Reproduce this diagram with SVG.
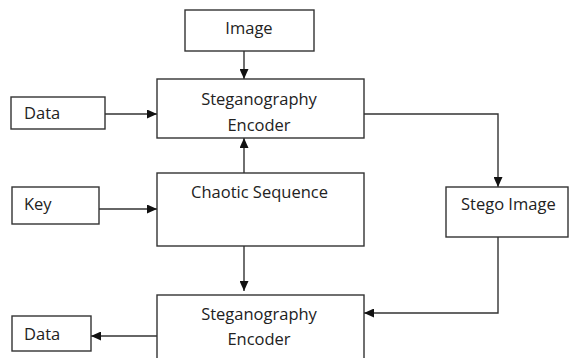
<svg xmlns="http://www.w3.org/2000/svg" width="570" height="358" viewBox="0 0 570 358">
<defs>
<style>
.box{fill:#fff;stroke:#333;stroke-width:1.4}
.ln{fill:none;stroke:#333;stroke-width:1.4}
text{font-family:"Open Sans","DejaVu Sans",sans-serif;font-size:16.5px;fill:#222}
.c{text-anchor:middle}
</style>
<marker id="ah" viewBox="0 0 10 9" refX="10" refY="4.5" markerWidth="10" markerHeight="9" markerUnits="userSpaceOnUse" orient="auto">
<path d="M0,0 L10,4.5 L0,9 z" fill="#111"/>
</marker>
</defs>
<rect width="570" height="358" fill="#fff"/>
<g id="connectors">
<line class="ln" x1="244" y1="51" x2="244" y2="79" marker-end="url(#ah)"/>
<line class="ln" x1="105" y1="114" x2="157" y2="114" marker-end="url(#ah)"/>
<line class="ln" x1="244" y1="173" x2="244" y2="138" marker-end="url(#ah)"/>
<line class="ln" x1="99" y1="209" x2="157" y2="209" marker-end="url(#ah)"/>
<line class="ln" x1="244" y1="246" x2="244" y2="291" marker-end="url(#ah)"/>
<polyline class="ln" points="364,114 498,114 498,187" marker-end="url(#ah)"/>
<polyline class="ln" points="498,237 498,313 364,313" marker-end="url(#ah)"/>
<line class="ln" x1="157" y1="336" x2="91" y2="336" marker-end="url(#ah)"/>
</g>
<g id="image"><rect class="box" x="185" y="10" width="129" height="41"/><text class="c" x="249" y="34">Image</text></g>
<g id="encoder1"><rect class="box" x="157" y="79" width="207" height="59"/><text class="c" x="259" y="105">Steganography</text><text class="c" x="259" y="130.5">Encoder</text></g>
<g id="data1"><rect class="box" x="11" y="97" width="94" height="32"/><text x="24" y="119">Data</text></g>
<g id="chaotic"><rect class="box" x="157" y="173" width="207" height="73"/><text class="c" x="259.5" y="198">Chaotic Sequence</text></g>
<g id="key"><rect class="box" x="12" y="187" width="87" height="37"/><text x="24" y="210">Key</text></g>
<g id="stego"><rect class="box" x="446" y="187" width="122" height="50"/><text x="461" y="210">Stego Image</text></g>
<g id="encoder2"><rect class="box" x="157" y="295" width="207" height="70"/><text class="c" x="259" y="320">Steganography</text><text class="c" x="259" y="345">Encoder</text></g>
<g id="data2"><rect class="box" x="12" y="316" width="79" height="35"/><text x="24" y="340">Data</text></g>
</svg>
